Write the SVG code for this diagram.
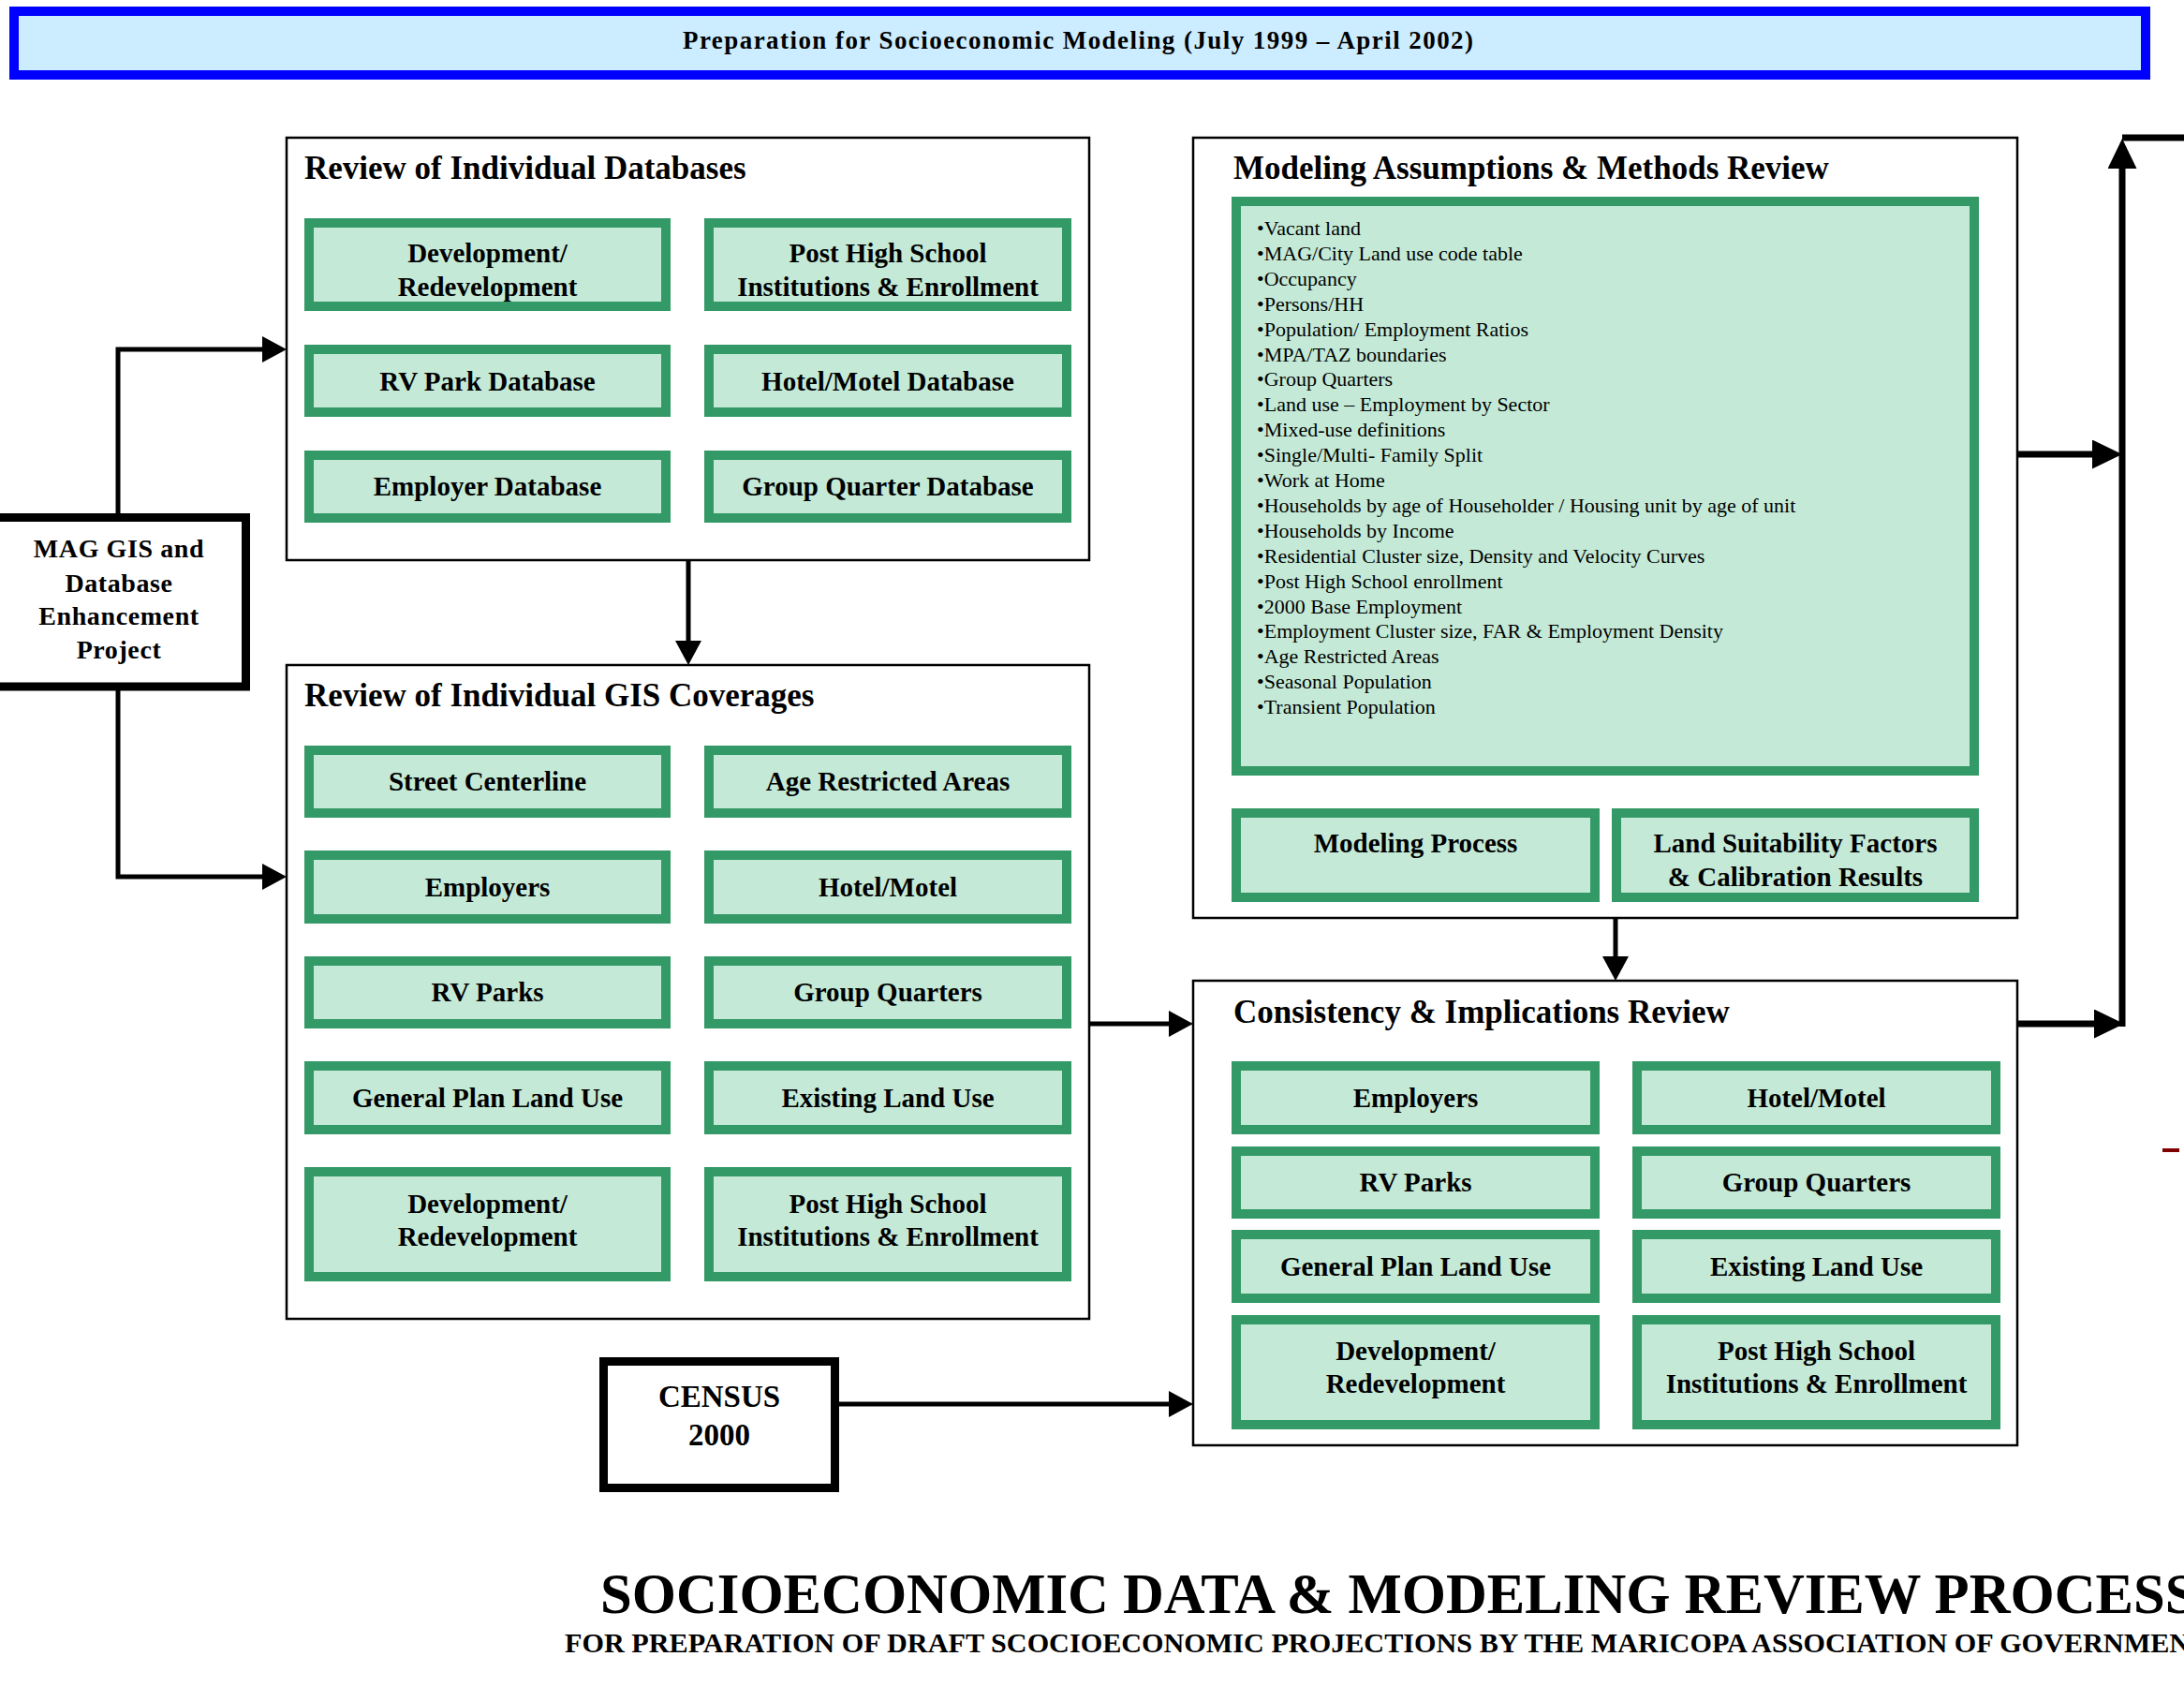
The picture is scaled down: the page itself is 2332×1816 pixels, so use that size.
<svg xmlns="http://www.w3.org/2000/svg" width="2332" height="1816" viewBox="0 0 2332 1816">
<style>
text{font-family:"Liberation Serif","Times New Roman",serif;fill:#000}
.b{font-weight:bold}
.cont{fill:#fff;stroke:#000;stroke-width:2.5}
.g{fill:#C4EAD7;stroke:#339966;stroke-width:10}
.gt{font-size:29px;font-weight:bold;text-anchor:middle}
.ttl{font-size:35px;font-weight:bold}
.li{font-size:22px}
.blk{fill:#fff;stroke:#000;stroke-width:9}
.ln{fill:none;stroke:#000;stroke-width:5}
.lnT{fill:none;stroke:#000;stroke-width:7}
</style>
<defs>
<marker id="ah" markerUnits="userSpaceOnUse" markerWidth="26" markerHeight="28" viewBox="0 0 26 28" refX="0" refY="14" orient="auto"><path d="M0,0 L26,14 L0,28 Z" fill="#000"/></marker>
<marker id="ahL" markerUnits="userSpaceOnUse" markerWidth="32" markerHeight="31" viewBox="0 0 32 31" refX="0" refY="15.5" orient="auto"><path d="M0,0 L32,15.5 L0,31 Z" fill="#000"/></marker>
</defs>
<rect x="0" y="0" width="2332" height="1816" fill="#fff"/>

<g id="banner">
<rect x="15" y="12" width="2276" height="68" fill="#CCECFF" stroke="#0000FF" stroke-width="10"/>
<text class="b" x="1151" y="52" font-size="27" text-anchor="middle" textLength="844">Preparation for Socioeconomic Modeling (July 1999 – April 2002)</text>
</g>

<g id="connectors">
<path class="ln" d="M126,548 V373 H280" marker-end="url(#ah)"/>
<path class="ln" d="M126,737 V936 H280" marker-end="url(#ah)"/>
<path class="ln" d="M735,598 V684" marker-end="url(#ah)"/>
<path class="ln" d="M1163,1093 H1248" marker-end="url(#ah)"/>
<path class="ln" d="M896,1499 H1248" marker-end="url(#ah)"/>
<path class="ln" d="M1725,980 V1021" marker-end="url(#ah)"/>
<path class="lnT" d="M2154,485 H2234" marker-end="url(#ahL)"/>
<path class="lnT" d="M2154,1093 H2236" marker-end="url(#ahL)"/>
<path class="lnT" d="M2266,1096 V180" marker-end="url(#ahL)"/>
<path class="lnT" d="M2266,147 H2340"/>
</g>

<g id="mag">
<rect class="blk" x="-20" y="552.5" width="282.5" height="180.5"/>
<text class="b" font-size="28" text-anchor="middle" letter-spacing="0.6"><tspan x="127" y="595">MAG GIS and</tspan><tspan x="127" y="632">Database</tspan><tspan x="127" y="667">Enhancement</tspan><tspan x="127" y="703">Project</tspan></text>
</g>

<g id="census">
<rect class="blk" x="644.5" y="1453.5" width="247" height="135"/>
<text class="b" font-size="33" text-anchor="middle"><tspan x="768" y="1502">CENSUS</tspan><tspan x="768" y="1543">2000</tspan></text>
</g>

<g id="databases">
<rect class="cont" x="306" y="147" width="857" height="451"/>
<text class="ttl" x="325" y="191">Review of Individual Databases</text>
<g id="db-dev"><rect class="g" x="330" y="238" width="381" height="89"/><text class="gt"><tspan x="520.5" y="280">Development/</tspan><tspan x="520.5" y="316">Redevelopment</tspan></text></g>
<g id="db-phs"><rect class="g" x="757" y="238" width="382" height="89"/><text class="gt"><tspan x="948" y="280">Post High School</tspan><tspan x="948" y="316">Institutions &amp; Enrollment</tspan></text></g>
<g id="db-rv"><rect class="g" x="330" y="373" width="381" height="67"/><text class="gt" x="520.5" y="417">RV Park Database</text></g>
<g id="db-hotel"><rect class="g" x="757" y="373" width="382" height="67"/><text class="gt" x="948" y="417">Hotel/Motel Database</text></g>
<g id="db-emp"><rect class="g" x="330" y="486" width="381" height="67"/><text class="gt" x="520.5" y="529">Employer Database</text></g>
<g id="db-gq"><rect class="g" x="757" y="486" width="382" height="67"/><text class="gt" x="948" y="529">Group Quarter Database</text></g>
</g>

<g id="gis">
<rect class="cont" x="306" y="710" width="857" height="698"/>
<text class="ttl" x="325" y="754">Review of Individual GIS Coverages</text>
<g id="gis-street"><rect class="g" x="330" y="801" width="381" height="67"/><text class="gt" x="520.5" y="844">Street Centerline</text></g>
<g id="gis-age"><rect class="g" x="757" y="801" width="382" height="67"/><text class="gt" x="948" y="844">Age Restricted Areas</text></g>
<g id="gis-emp"><rect class="g" x="330" y="913" width="381" height="68"/><text class="gt" x="520.5" y="957">Employers</text></g>
<g id="gis-hotel"><rect class="g" x="757" y="913" width="382" height="68"/><text class="gt" x="948" y="957">Hotel/Motel</text></g>
<g id="gis-rv"><rect class="g" x="330" y="1026" width="381" height="67"/><text class="gt" x="520.5" y="1069">RV Parks</text></g>
<g id="gis-gq"><rect class="g" x="757" y="1026" width="382" height="67"/><text class="gt" x="948" y="1069">Group Quarters</text></g>
<g id="gis-gplu"><rect class="g" x="330" y="1138" width="381" height="68"/><text class="gt" x="520.5" y="1182">General Plan Land Use</text></g>
<g id="gis-elu"><rect class="g" x="757" y="1138" width="382" height="68"/><text class="gt" x="948" y="1182">Existing Land Use</text></g>
<g id="gis-dev"><rect class="g" x="330" y="1251" width="381" height="112"/><text class="gt"><tspan x="520.5" y="1295">Development/</tspan><tspan x="520.5" y="1330">Redevelopment</tspan></text></g>
<g id="gis-phs"><rect class="g" x="757" y="1251" width="382" height="112"/><text class="gt"><tspan x="948" y="1295">Post High School</tspan><tspan x="948" y="1330">Institutions &amp; Enrollment</tspan></text></g>
</g>

<g id="modeling">
<rect class="cont" x="1274" y="147" width="880" height="833"/>
<text class="ttl" x="1317" y="191">Modeling Assumptions &amp; Methods Review</text>
<g id="mod-list">
<rect class="g" x="1320" y="215" width="788" height="608"/>
<text class="li">
<tspan x="1342" y="251">•Vacant land</tspan>
<tspan x="1342" y="277.9">•MAG/City Land use code table</tspan>
<tspan x="1342" y="304.8">•Occupancy</tspan>
<tspan x="1342" y="331.7">•Persons/HH</tspan>
<tspan x="1342" y="358.6">•Population/ Employment Ratios</tspan>
<tspan x="1342" y="385.5">•MPA/TAZ boundaries</tspan>
<tspan x="1342" y="412.4">•Group Quarters</tspan>
<tspan x="1342" y="439.3">•Land use – Employment by Sector</tspan>
<tspan x="1342" y="466.2">•Mixed-use definitions</tspan>
<tspan x="1342" y="493.1">•Single/Multi- Family Split</tspan>
<tspan x="1342" y="520">•Work at Home</tspan>
<tspan x="1342" y="546.9">•Households by age of Householder / Housing unit by age of unit</tspan>
<tspan x="1342" y="573.8">•Households by Income</tspan>
<tspan x="1342" y="600.7">•Residential Cluster size, Density and Velocity Curves</tspan>
<tspan x="1342" y="627.6">•Post High School enrollment</tspan>
<tspan x="1342" y="654.5">•2000 Base Employment</tspan>
<tspan x="1342" y="681.4">•Employment Cluster size, FAR &amp; Employment Density</tspan>
<tspan x="1342" y="708.3">•Age Restricted Areas</tspan>
<tspan x="1342" y="735.2">•Seasonal Population</tspan>
<tspan x="1342" y="762.1">•Transient Population</tspan>
</text>
</g>
<g id="mod-process"><rect class="g" x="1320" y="868" width="383" height="90"/><text class="gt" x="1511.5" y="910">Modeling Process</text></g>
<g id="mod-land"><rect class="g" x="1726" y="868" width="382" height="90"/><text class="gt"><tspan x="1917" y="910">Land Suitability Factors</tspan><tspan x="1917" y="946">&amp; Calibration Results</tspan></text></g>
</g>

<g id="consistency">
<rect class="cont" x="1274" y="1047" width="880" height="496"/>
<text class="ttl" x="1317" y="1092">Consistency &amp; Implications Review</text>
<g id="ci-emp"><rect class="g" x="1320" y="1138" width="383" height="68"/><text class="gt" x="1511.5" y="1182">Employers</text></g>
<g id="ci-hotel"><rect class="g" x="1748" y="1138" width="383" height="68"/><text class="gt" x="1939.5" y="1182">Hotel/Motel</text></g>
<g id="ci-rv"><rect class="g" x="1320" y="1229" width="383" height="67"/><text class="gt" x="1511.5" y="1272">RV Parks</text></g>
<g id="ci-gq"><rect class="g" x="1748" y="1229" width="383" height="67"/><text class="gt" x="1939.5" y="1272">Group Quarters</text></g>
<g id="ci-gplu"><rect class="g" x="1320" y="1318" width="383" height="68"/><text class="gt" x="1511.5" y="1362">General Plan Land Use</text></g>
<g id="ci-elu"><rect class="g" x="1748" y="1318" width="383" height="68"/><text class="gt" x="1939.5" y="1362">Existing Land Use</text></g>
<g id="ci-dev"><rect class="g" x="1320" y="1409" width="383" height="112"/><text class="gt"><tspan x="1511.5" y="1452">Development/</tspan><tspan x="1511.5" y="1487">Redevelopment</tspan></text></g>
<g id="ci-phs"><rect class="g" x="1748" y="1409" width="383" height="112"/><text class="gt"><tspan x="1939.5" y="1452">Post High School</tspan><tspan x="1939.5" y="1487">Institutions &amp; Enrollment</tspan></text></g>
</g>

<rect id="red-mark" x="2309" y="1226" width="18" height="4" fill="#800000"/>

<g id="footer">
<text class="b" x="641" y="1722" font-size="60.7">SOCIOECONOMIC DATA &amp; MODELING REVIEW PROCESS</text>
<text class="b" x="603" y="1764" font-size="30.2">FOR PREPARATION OF DRAFT SCOCIOECONOMIC PROJECTIONS BY THE MARICOPA ASSOCIATION OF GOVERNMENTS</text>
</g>
</svg>
